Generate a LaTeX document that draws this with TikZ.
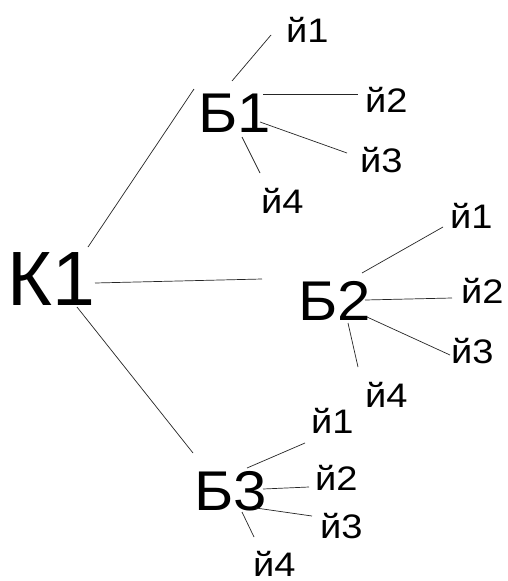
\documentclass[tikz,border=0pt]{standalone}
\usepackage{fontspec}
\setmainfont{Liberation Sans}
\newfontfamily\smallfam[FakeStretch=1.12]{Liberation Sans}
\newfontfamily\midfam[FakeStretch=1.07]{Liberation Sans}
\usetikzlibrary{calc}
\newcommand\myconn[4]{\draw[edge] ($(#1.base west)+(#2)$) -- ($(#3.base west)+(#4)$);}
\begin{document}
\begin{tikzpicture}[x=1pt,y=-1pt,
  big/.style={anchor=base west,inner sep=0pt,font=\fontsize{77}{80}\selectfont},
  mid/.style={anchor=base west,inner sep=0pt,font=\midfam\fontsize{56}{60}\selectfont},
  small/.style={anchor=base west,inner sep=0pt,font=\smallfam\fontsize{34}{36}\selectfont},
  edge/.style={line width=0.7pt,black!85}]
\useasboundingbox[fill=white] (0,0) rectangle (507,581);
\node[big] (k1) at (7,305) {К1};
\node[mid] (b1) at (198,132) {Б1};
\node[mid] (b2) at (298,320) {Б2};
\node[mid] (b3) at (194,510) {Б3};
\node[small] (y11) at (286,42) {й1};
\node[small] (y12) at (365,112) {й2};
\node[small] (y13) at (360,172) {й3};
\node[small] (y14) at (261,213) {й4};
\node[small] (y21) at (450,228) {й1};
\node[small] (y22) at (461,303) {й2};
\node[small] (y23) at (451,363) {й3};
\node[small] (y24) at (365,407) {й4};
\node[small] (y31) at (311,433) {й1};
\node[small] (y32) at (315,490) {й2};
\node[small] (y33) at (320,538) {й3};
\node[small] (y34) at (253,576) {й4};
\myconn{k1}{81,-58}{b1}{-4,-43}
\myconn{k1}{88,-22}{b2}{-36,-41}
\myconn{k1}{70,2}{b3}{-1,-57}
\myconn{b1}{34,-51}{y11}{-15,-7}
\myconn{b1}{65,-38}{y12}{-7,-18}
\myconn{b1}{62,-10}{y13}{-13,-19}
\myconn{b1}{44,5}{y14}{-1,-40}
\myconn{b2}{64,-47}{y21}{-7,-1}
\myconn{b2}{67,-20}{y22}{-9,-5}
\myconn{b2}{69,-3}{y23}{-1,-8}
\myconn{b2}{50,3}{y24}{-7,-40}
\myconn{b3}{53,-42}{y31}{-6,10}
\myconn{b3}{69,-21}{y32}{-6,-3}
\myconn{b3}{62,-2}{y33}{-8,-22}
\myconn{b3}{48,2}{y34}{1,-39}
\end{tikzpicture}
\end{document}
